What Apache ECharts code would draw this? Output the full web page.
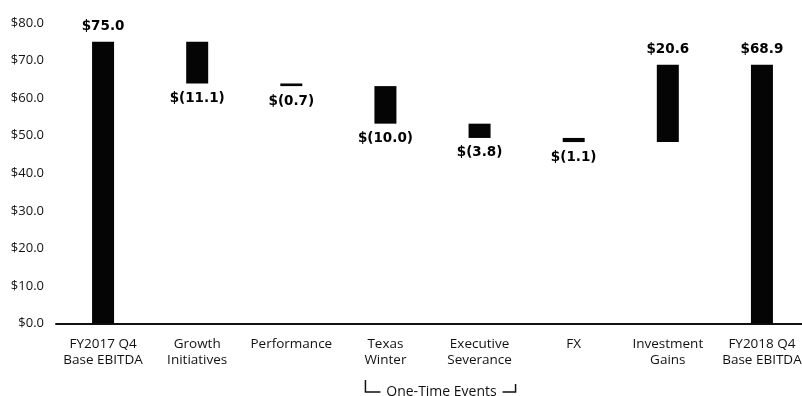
<!DOCTYPE html>
<html>
<head>
<meta charset="utf-8">
<script src="https://cdn.jsdelivr.net/npm/echarts@6/dist/echarts.min.js"></script>
<style>
  html, body { margin: 0; padding: 0; background: #fff; overflow: hidden; }
  #chart { width: 810px; height: 396px; }
</style>
</head>
<body>
<div id="chart"></div>
<script>
// EBITDA bridge, FY2017 Q4 -> FY2018 Q4 ($ millions)
const categories = [
  'FY2017 Q4\nBase EBITDA', 'Growth\nInitiatives', 'Performance', 'Texas\nWinter',
  'Executive\nSeverance', 'FX', 'Investment\nGains', 'FY2018 Q4\nBase EBITDA'
];
// Totals are absolute levels; the others are changes from the running level
const values = [75.0, -11.1, -0.7, -10.0, -3.8, -1.1, 20.6, 68.9];
const isTotal = [true, false, false, false, false, false, false, true];
const yTicks = { min: 0, max: 80, step: 10 };
const bracketLabel = 'One-Time Events';
const bracketFrom = 3;  // Texas Winter
const bracketTo = 4;    // Executive Severance

// Build invisible base + visible step for a stacked waterfall
const base = [];
const step = [];
let running = 0;
values.forEach((v, i) => {
  if (isTotal[i]) {
    base.push(0);
    step.push(v);
    running = v;
  } else if (v < 0) {
    running += v;
    base.push(+running.toFixed(2));
    step.push(-v);
  } else {
    base.push(+running.toFixed(2));
    step.push(v);
    running += v;
  }
});

function money(v) {
  return v < 0 ? '$(' + Math.abs(v).toFixed(1) + ')' : '$' + v.toFixed(1);
}

const chart = echarts.init(document.getElementById('chart'), null, { renderer: 'canvas' });
const txt = '#111';

chart.setOption({
  animation: false,
  backgroundColor: '#fff',
  grid: { left: 56, right: 1, top: 23, bottom: 72.5, containLabel: false },
  xAxis: {
    type: 'category',
    data: categories,
    axisTick: { show: false },
    axisLine: { lineStyle: { color: '#111', width: 2 } },
    axisLabel: {
      interval: 0,
      color: txt,
      fontFamily: 'Open Sans',
      fontSize: 13.5,
      lineHeight: 16,
      margin: 13
    }
  },
  yAxis: {
    type: 'value',
    min: yTicks.min,
    max: yTicks.max,
    interval: yTicks.step,
    splitLine: { show: false },
    axisLine: { show: false },
    axisTick: { show: false },
    axisLabel: {
      color: txt,
      fontFamily: 'Open Sans',
      fontSize: 13,
      margin: 12,
      formatter: v => '$' + v.toFixed(1)
    }
  },
  series: [
    {
      type: 'bar',
      stack: 'wf',
      data: base,
      barWidth: 22,
      itemStyle: { color: 'transparent' },
      emphasis: { disabled: true },
      silent: true
    },
    {
      type: 'bar',
      stack: 'wf',
      barWidth: 22,
      itemStyle: { color: '#050505' },
      data: step.map((h, i) => ({
        value: h,
        label: {
          show: true,
          position: values[i] < 0 ? 'bottom' : 'top',
          distance: 8,
          formatter: money(values[i]),
          color: '#000',
          fontFamily: 'DejaVu Sans',
          fontWeight: 'bold',
          fontSize: 13.5
        }
      }))
    }
  ]
});

// Bracket grouping the one-time events under the axis labels
const xa = chart.convertToPixel({ xAxisIndex: 0 }, bracketFrom);
const xb = chart.convertToPixel({ xAxisIndex: 0 }, bracketTo);
const left = xa - 20;
const right = xb + 36;
const mid = (left + right) / 2 + 1;
const yb = 392;
const stroke = { stroke: '#111', lineWidth: 1.5 };
chart.setOption({
  graphic: [
    { type: 'polyline', shape: { points: [[left, 380], [left, yb], [left + 15, yb]] }, style: Object.assign({ fill: null }, stroke) },
    { type: 'polyline', shape: { points: [[right - 13, yb], [right, yb], [right, 384]] }, style: Object.assign({ fill: null }, stroke) },
    {
      type: 'text',
      x: mid,
      y: 392,
      style: {
        text: bracketLabel,
        align: 'center',
        verticalAlign: 'middle',
        fill: txt,
        font: '14px "Open Sans"'
      }
    }
  ]
});
</script>
</body>
</html>
